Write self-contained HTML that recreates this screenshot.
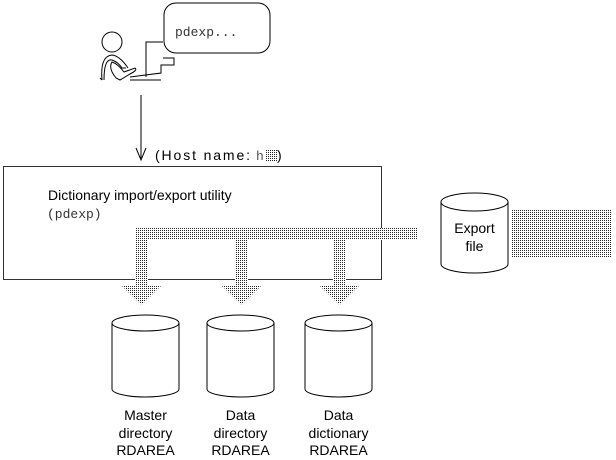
<!DOCTYPE html>
<html><head><meta charset="utf-8"><style>
html,body{margin:0;padding:0;background:#fff;}
svg{display:block;}
text{font-family:"Liberation Sans",sans-serif;font-size:14px;fill:#000;}
.m{font-family:"Liberation Mono",monospace;font-size:13px;fill:#555;}
</style></head><body>
<svg width="616" height="460" viewBox="0 0 616 460" xmlns="http://www.w3.org/2000/svg">
<defs>
<pattern id="d" width="2" height="2" patternUnits="userSpaceOnUse">
<rect width="2" height="2" fill="#fff"/><rect width="1" height="1" fill="#222"/>
</pattern>
</defs>
<g fill="none" stroke="#000" stroke-width="1">
<circle cx="112" cy="42" r="10"/>
<path d="M102 80 Q100 56 112 55 Q120 56 128 68"/>
<path d="M102 80 L100 78 M104 80 Q104 58 112 60 Q118 62 122 68 L126 68"/>
<path d="M116 78 Q108 68 112 62 Q118 64 124 72 L135 68 Q138 70 130 74 L120 80 Z"/>
<path d="M130 77 L161 73 L161 65 L174 65 L174 58 L163 58"/>
<path d="M146 77 L146 42 L163 42"/>
<path d="M130 80 L161 80"/>
<rect x="164" y="3" width="106" height="50" rx="12"/>
<line x1="141" y1="95" x2="141" y2="158"/>
<path d="M136 148 L141 160 L146 148"/>
<rect x="3.5" y="166.5" width="378" height="113" stroke="#333"/>
<path d="M441 202 L441 264 A33.5 9 0 0 0 508 264 L508 202"/>
<ellipse cx="474.5" cy="202" rx="33.5" ry="9"/>
<path d="M112 323 L112 389 A33.5 8 0 0 0 179 389 L179 323"/>
<ellipse cx="145.5" cy="323" rx="33.5" ry="8"/>
<path d="M207 323 L207 389 A33.5 8 0 0 0 274 389 L274 323"/>
<ellipse cx="240.5" cy="323" rx="33.5" ry="8"/>
<path d="M305 323 L305 389 A33.5 8 0 0 0 372 389 L372 323"/>
<ellipse cx="338.5" cy="323" rx="33.5" ry="8"/>
</g>
<g fill="url(#d)">
<rect x="135" y="228" width="282" height="12"/>
<rect x="135" y="228" width="13" height="58"/>
<rect x="235" y="228" width="13" height="58"/>
<rect x="333" y="228" width="13" height="58"/>
<polygon points="122,286 161,286 141.5,305"/>
<polygon points="222,286 261,286 241.5,305"/>
<polygon points="320,286 359,286 339.5,305"/>
<rect x="265" y="149" width="12" height="12"/>
<rect x="512" y="210" width="99" height="48"/>
</g>
<text x="175" y="36" class="m" style="fill:#333">pdexp...</text>
<text x="155" y="160" textLength="95" lengthAdjust="spacing">(Host name:</text>
<text x="256" y="160" class="m">h</text>
<text x="277" y="160">)</text>
<text x="48" y="200">Dictionary import/export utility</text>
<text x="47" y="218" class="m" style="fill:#333">(pdexp)</text>
<text x="474.5" y="233" text-anchor="middle">Export</text>
<text x="474.5" y="251" text-anchor="middle">file</text>
<g text-anchor="middle">
<text x="145.5" y="420">Master</text><text x="145.5" y="438">directory</text><text x="145.5" y="455">RDAREA</text>
<text x="240.5" y="420">Data</text><text x="240.5" y="438">directory</text><text x="240.5" y="455">RDAREA</text>
<text x="338.5" y="420">Data</text><text x="338.5" y="438">dictionary</text><text x="338.5" y="455">RDAREA</text>
</g>
</svg>
</body></html>
